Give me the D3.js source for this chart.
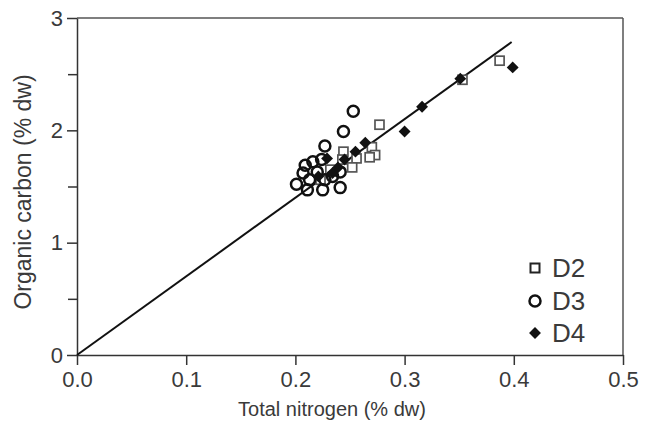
<!DOCTYPE html>
<html><head><meta charset="utf-8">
<script src="https://cdn.jsdelivr.net/npm/d3@7"></script>
<style>body{margin:0;background:#fff}svg{display:block}text{font-family:Arial,"Liberation Sans",sans-serif}</style>
</head><body><svg id="c" width="649" height="429"></svg>
<script>
const xTicks = [0, 0.1, 0.2, 0.3, 0.4, 0.5];
const yTicks = [0, 1, 2, 3];
const yMinorTicks = [0.5, 1.5, 2.5];
const seriesNames = ["D2", "D3", "D4"];
const d2x = [0.387, 0.353, 0.277, 0.270, 0.273, 0.268, 0.256, 0.252, 0.244, 0.243, 0.232, 0.223];
const d2y = [2.62, 2.45, 2.05, 1.85, 1.78, 1.76, 1.75, 1.67, 1.81, 1.74, 1.65, 1.56];
const d3x = [0.253, 0.244, 0.227, 0.209, 0.216, 0.207, 0.213, 0.201, 0.211, 0.225, 0.241, 0.220, 0.227, 0.234, 0.241, 0.224];
const d3y = [2.17, 1.99, 1.86, 1.69, 1.72, 1.62, 1.56, 1.52, 1.47, 1.47, 1.49, 1.63, 1.56, 1.59, 1.63, 1.74];
const d4x = [0.399, 0.351, 0.316, 0.300, 0.264, 0.255, 0.245, 0.229, 0.234, 0.221, 0.239];
const d4y = [2.56, 2.46, 2.21, 1.99, 1.89, 1.81, 1.74, 1.75, 1.62, 1.59, 1.67];
const fitX = [0, 0.398];
const fitSlope = 7.0;

const svg = d3.select("#c");
const m = {l:77, r:623, t:18, b:355};
const x = d3.scaleLinear().domain([0,0.5]).range([m.l,m.r]);
const y = d3.scaleLinear().domain([0,3]).range([m.b,m.t]);
const axCol = "#333", txtCol = "#3a3a3a";

svg.append("line").attr("x1",m.l).attr("x2",m.r).attr("y1",m.t).attr("y2",m.t).attr("stroke","#555").attr("stroke-width",1.5);
svg.append("line").attr("x1",m.r).attr("x2",m.r).attr("y1",m.t).attr("y2",m.b).attr("stroke","#555").attr("stroke-width",1.5);

svg.append("g").attr("transform",`translate(0,${m.b})`)
  .call(d3.axisBottom(x).tickValues(xTicks).tickFormat(d3.format(".1f")).tickSize(10).tickSizeOuter(0).tickPadding(6));
svg.append("g").attr("transform",`translate(${m.l},0)`)
  .call(d3.axisLeft(y).tickValues(yTicks).tickFormat(d3.format("d")).tickSize(10).tickSizeOuter(0).tickPadding(4));
svg.append("g").attr("transform",`translate(${m.l},0)`)
  .call(d3.axisLeft(y).tickValues(yMinorTicks).tickFormat("").tickSize(9).tickSizeOuter(0))
  .call(g=>g.select(".domain").remove());
svg.selectAll(".domain").attr("stroke",axCol).attr("stroke-width",1.5);
svg.selectAll(".tick line").attr("stroke",axCol).attr("stroke-width",1.5);
svg.selectAll("g").attr("font-size",null).attr("font-family",null);
svg.selectAll(".tick text").attr("fill",txtCol).style("font-size","22px");

svg.append("line").attr("x1",x(fitX[0])).attr("y1",y(fitX[0]*fitSlope))
  .attr("x2",x(fitX[1])).attr("y2",y(fitX[1]*fitSlope))
  .attr("stroke","#111").attr("stroke-width",2);

svg.append("g").selectAll("rect").data(d2x.map((v,i)=>[v,d2y[i]])).join("rect")
  .attr("x",d=>x(d[0])-4.5).attr("y",d=>y(d[1])-4.5).attr("width",9).attr("height",9)
  .attr("fill","#fff").attr("stroke","#555").attr("stroke-width",1.7);
svg.append("g").selectAll("circle").data(d3x.map((v,i)=>[v,d3y[i]])).join("circle")
  .attr("cx",d=>x(d[0])).attr("cy",d=>y(d[1])).attr("r",5.5)
  .attr("fill","none").attr("stroke","#111").attr("stroke-width",2.5);
const dia = d3.symbol().type(d3.symbolDiamond2).size(90);
svg.append("g").selectAll("path").data(d4x.map((v,i)=>[v,d4y[i]])).join("path")
  .attr("d",dia).attr("transform",d=>`translate(${x(d[0])},${y(d[1])})`).attr("fill","#111");

const lg = svg.append("g");
const ly = [268, 301, 333];
lg.append("rect").attr("x",530.5).attr("y",ly[0]-4.5).attr("width",9).attr("height",9).attr("fill","#fff").attr("stroke","#222").attr("stroke-width",2);
lg.append("circle").attr("cx",535).attr("cy",ly[1]).attr("r",5.5).attr("fill","none").attr("stroke","#111").attr("stroke-width",2.5);
lg.append("path").attr("d",dia).attr("transform",`translate(535,${ly[2]})`).attr("fill","#111");
lg.selectAll("text").data(seriesNames).join("text")
  .attr("x",552).attr("y",(d,i)=>ly[i]).attr("dy","0.36em").attr("fill",txtCol).style("font-size","26px").text(d=>d);

svg.append("text").attr("x",332).attr("y",416).attr("text-anchor","middle").attr("fill",txtCol).style("font-size","20px").text("Total nitrogen (% dw)");
svg.append("text").attr("transform",`translate(31,192) rotate(-90)`).attr("text-anchor","middle").attr("fill",txtCol).style("font-size","23px").text("Organic carbon (% dw)");
</script></body></html>
